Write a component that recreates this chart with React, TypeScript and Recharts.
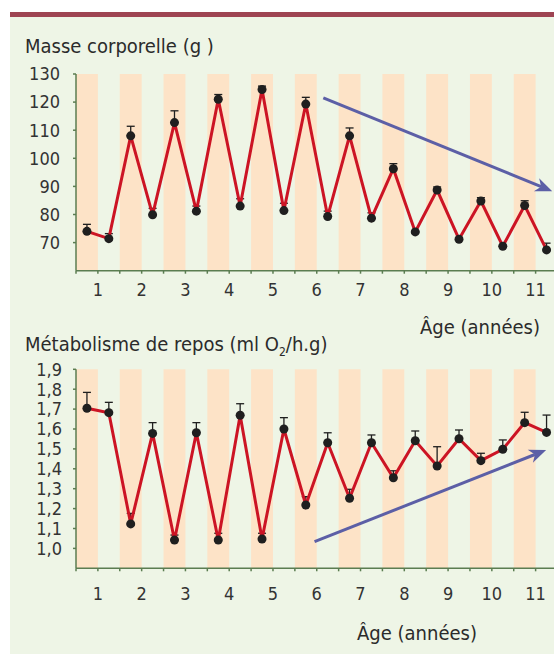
import React from "react";
import {
  LineChart,
  Line,
  XAxis,
  YAxis,
  ErrorBar,
  ReferenceArea,
  ReferenceLine,
} from "recharts";

// half-year sampling points (middle of each season band)
const ages = [0.75, 1.25, 1.75, 2.25, 2.75, 3.25, 3.75, 4.25, 4.75, 5.25, 5.75, 6.25, 6.75, 7.25, 7.75, 8.25, 8.75, 9.25, 9.75, 10.25, 10.75, 11.25];

const mass = [74.0, 71.4, 108.0, 79.9, 112.7, 81.2, 121.0, 83.0, 124.5, 81.4, 119.3, 79.3, 108.0, 78.7, 96.3, 73.8, 88.7, 71.2, 84.8, 68.7, 83.2, 67.4];
const massErr = [2.5, 1.8, 3.4, 2.3, 4.2, 1.8, 1.7, 2.6, 1.2, 2.6, 2.4, 1.9, 2.8, 1.9, 1.8, 0, 1.1, 0, 1.2, 0, 1.7, 2.4];

const metab = [1.704, 1.682, 1.123, 1.578, 1.042, 1.581, 1.042, 1.669, 1.047, 1.6, 1.218, 1.531, 1.252, 1.531, 1.355, 1.541, 1.414, 1.551, 1.441, 1.498, 1.632, 1.583];
const metabErr = [0.08, 0.052, 0.053, 0.054, 0.025, 0.051, 0.034, 0.058, 0.029, 0.057, 0.042, 0.05, 0.045, 0.039, 0.035, 0.049, 0.097, 0.044, 0.037, 0.047, 0.052, 0.087];

// shaded season bands
const bandStart = [0.5, 1.5, 2.5, 3.5, 4.5, 5.5, 6.5, 7.5, 8.5, 9.5, 10.5];
const bandEnd = [1, 2, 3, 4, 5, 6, 7, 8, 9, 10, 11];

const xTicks = [0.5, 1, 1.5, 2, 2.5, 3, 3.5, 4, 4.5, 5, 5.5, 6, 6.5, 7, 7.5, 8, 8.5, 9, 9.5, 10, 10.5, 11, 11.5];
const massTicks = [70, 80, 90, 100, 110, 120, 130];
const metabTicks = [1.0, 1.1, 1.2, 1.3, 1.4, 1.5, 1.6, 1.7, 1.8, 1.9];

// trend arrows (data coordinates)
const massTrend = [{ x: 6.15, y: 121.5 }, { x: 11.38, y: 88.3 }];
const metabTrend = [{ x: 5.95, y: 1.034 }, { x: 11.24, y: 1.494 }];

const massData = ages.map((age, i) => ({ age, v: mass[i], err: [0, massErr[i]] }));
const metabData = ages.map((age, i) => ({ age, v: metab[i], err: [0, metabErr[i]] }));

const FONT = "'DejaVu Sans Condensed', 'Liberation Sans', sans-serif";
const AXIS = "#5b7d51";
const BAND = "#fde3c7";
const RED = "#cc1424";
const DOT = "#1f1f1f";
const ARROW = "#5c5fa6";

function Arrow(props: any) {
  const { x1, y1, x2, y2 } = props;
  const dx = x2 - x1;
  const dy = y2 - y1;
  const len = Math.sqrt(dx * dx + dy * dy);
  const ux = dx / len;
  const uy = dy / len;
  const head = 17;
  const half = 7;
  const notch = 12;
  const bx = x2 - ux * head;
  const by = y2 - uy * head;
  const nx = x2 - ux * notch;
  const ny = y2 - uy * notch;
  const pts = [
    [x2, y2],
    [bx - uy * half, by + ux * half],
    [nx, ny],
    [bx + uy * half, by - ux * half],
  ]
    .map((p) => p.join(","))
    .join(" ");
  return (
    <g>
      <line x1={x1} y1={y1} x2={nx} y2={ny} stroke={ARROW} strokeWidth={3} />
      <polygon points={pts} fill={ARROW} />
    </g>
  );
}

const xFmt = (v: number) => (Number.isInteger(v) ? String(v) : "");
const commaFmt = (v: number) => v.toFixed(1).replace(".", ",");

const tickStyle = { fontSize: 18, fill: "#333", fontFamily: FONT };

function Bands() {
  return null;
}

const label = (top: number, left: number, size: number): React.CSSProperties => ({
  position: "absolute",
  top,
  left,
  fontSize: size,
  lineHeight: "24px",
  fontFamily: FONT,
  color: "#2b2b2b",
  whiteSpace: "nowrap",
});

export default function App() {
  return (
    <div
      style={{
        position: "absolute",
        left: 0,
        top: 0,
        width: 554,
        height: 655,
        overflow: "hidden",
        background: "#ffffff",
      }}
    >
      <div style={{ position: "absolute", left: 10, top: 12, width: 544, height: 5, background: "#9e4452" }} />
      <div style={{ position: "absolute", left: 10, top: 17, width: 544, height: 637, background: "#eef5e6" }} />

      <div style={label(34, 25, 20)}>Masse corporelle (g )</div>
      <div style={label(315, 420, 20)}>Âge (années)</div>
      <div style={label(332, 25, 20)}>
        Métabolisme de repos (ml O<sub style={{ fontSize: 12 }}>2</sub>/h.g)
      </div>
      <div style={label(621, 357, 20)}>Âge (années)</div>

      {/* top chart: body mass */}
      <div style={{ position: "absolute", left: 0, top: 0 }}>
        <LineChart width={600} height={320} data={massData} margin={{ top: 74, right: 42.5, bottom: 9.3, left: 16 }}>
          {bandStart.map((s, i) => (
            <ReferenceArea key={i} x1={s} x2={bandEnd[i]} fill={BAND} fillOpacity={1} stroke="none" />
          ))}
          <XAxis
            dataKey="age"
            type="number"
            domain={[0.5, 11.5]}
            ticks={xTicks}
            tickFormatter={xFmt}
            interval={0}
            height={40}
            stroke={AXIS}
            strokeWidth={1.5}
            tickSize={3}
            tickMargin={10}
            tick={tickStyle}
          />
          <YAxis
            type="number"
            domain={[60, 130]}
            ticks={massTicks}
            interval={0}
            width={60}
            stroke={AXIS}
            strokeWidth={1.5}
            tickSize={3}
            tickMargin={13}
            tick={tickStyle}
          />
          <ReferenceLine segment={massTrend} shape={<Arrow />} />
          <Line
            dataKey="v"
            stroke={RED}
            strokeWidth={3}
            dot={{ r: 4.5, fill: DOT, stroke: "none" }}
            isAnimationActive={false}
          >
            <ErrorBar dataKey="err" direction="y" width={4} stroke={DOT} strokeWidth={1.3} />
          </Line>
        </LineChart>
      </div>

      {/* bottom chart: resting metabolism */}
      <div style={{ position: "absolute", left: 0, top: 300 }}>
        <LineChart width={600} height={320} data={metabData} margin={{ top: 69.3, right: 42.5, bottom: 11.7, left: 16 }}>
          {bandStart.map((s, i) => (
            <ReferenceArea key={i} x1={s} x2={bandEnd[i]} fill={BAND} fillOpacity={1} stroke="none" />
          ))}
          <XAxis
            dataKey="age"
            type="number"
            domain={[0.5, 11.5]}
            ticks={xTicks}
            tickFormatter={xFmt}
            interval={0}
            height={40}
            stroke={AXIS}
            strokeWidth={1.5}
            tickSize={3}
            tickMargin={16}
            tick={tickStyle}
          />
          <YAxis
            type="number"
            domain={[0.9, 1.9]}
            ticks={metabTicks}
            tickFormatter={commaFmt}
            interval={0}
            width={60}
            stroke={AXIS}
            strokeWidth={1.5}
            tickSize={3}
            tickMargin={11}
            tick={tickStyle}
          />
          <ReferenceLine segment={metabTrend} shape={<Arrow />} />
          <Line
            dataKey="v"
            stroke={RED}
            strokeWidth={3}
            dot={{ r: 4.5, fill: DOT, stroke: "none" }}
            isAnimationActive={false}
          >
            <ErrorBar dataKey="err" direction="y" width={4} stroke={DOT} strokeWidth={1.3} />
          </Line>
        </LineChart>
      </div>
    </div>
  );
}
